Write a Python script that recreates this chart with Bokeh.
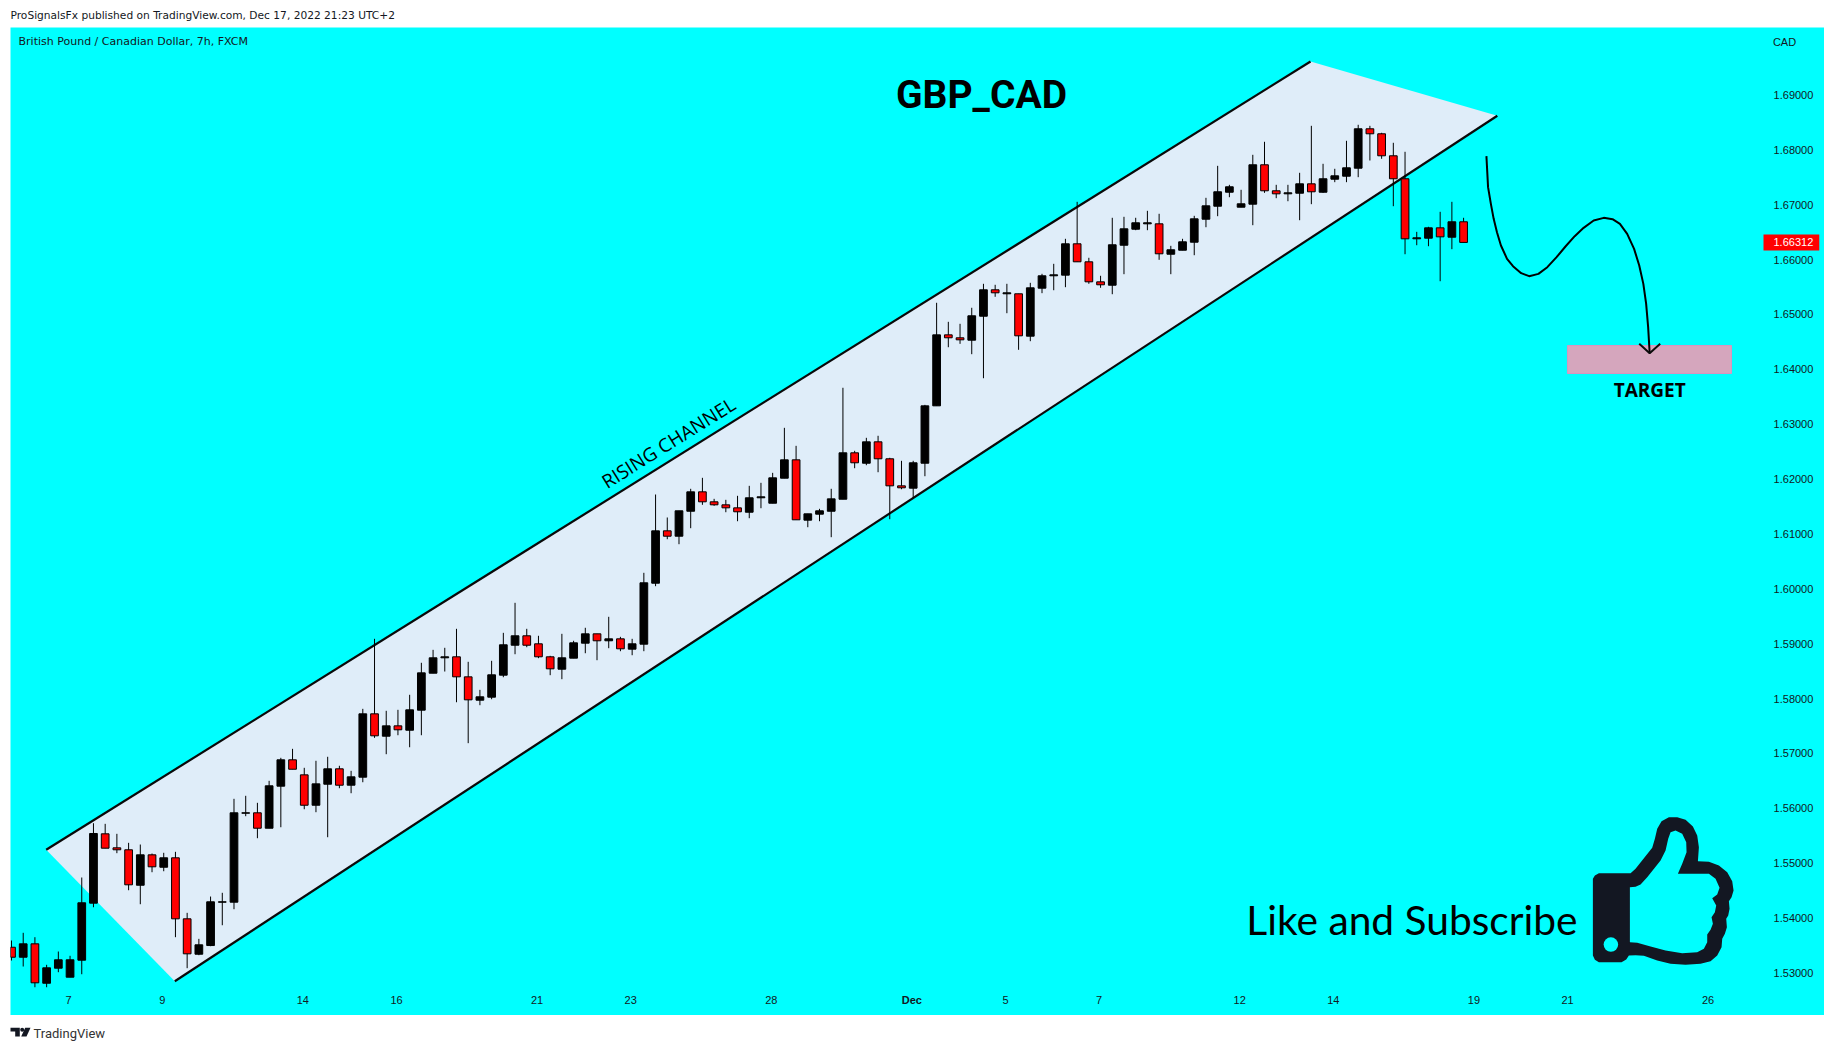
from bokeh.plotting import figure
from bokeh.layouts import column
from bokeh.models import ColumnDataSource, FixedTicker, Label, PrintfTickFormatter, Range1d
from bokeh.core.properties import value
from bokeh.embed import file_html
from bokeh.resources import INLINE
import math

OPEN = [1.53467,1.53285,1.53529,1.52811,1.53085,1.52921,1.53231,1.54270,1.55534,1.55279,
1.55243,1.54597,1.55151,1.54925,1.55097,1.53985,1.53340,1.53498,1.54288,1.54288,
1.55910,1.55917,1.55636,1.56402,1.56883,1.56609,1.56055,1.56438,1.56719,1.56420,
1.56566,1.57721,1.57313,1.57502,1.57422,1.57787,1.58461,1.58742,1.58760,1.58395,
1.57969,1.58024,1.58425,1.58971,1.59143,1.58997,1.58760,1.58534,1.58735,1.59008,
1.59179,1.59052,1.59088,1.58899,1.58990,1.60101,1.61056,1.60958,1.61413,1.61767,
1.61585,1.61530,1.61475,1.61395,1.61658,1.61559,1.62015,1.62350,1.61250,1.61359,
1.61413,1.61632,1.62478,1.62288,1.62678,1.62369,1.61876,1.61833,1.62288,1.63334,
1.64628,1.64574,1.64530,1.64967,1.65449,1.65376,1.65376,1.64603,1.65478,1.65704,
1.65715,1.66287,1.65959,1.65594,1.65532,1.66261,1.66553,1.66651,1.66651,1.66097,
1.66170,1.66316,1.66735,1.66972,1.67227,1.66954,1.67009,1.67727,1.67253,1.67198,
1.67209,1.67380,1.67227,1.67464,1.67519,1.67665,1.68383,1.68292,1.67891,1.67472,
1.66378,1.66389,1.66578,1.66407,1.66688]
HIGH = [1.53590,1.53730,1.53650,1.53147,1.53389,1.53311,1.54738,1.55727,1.55716,1.55534,
1.55370,1.55339,1.55175,1.55188,1.55206,1.54094,1.53620,1.54391,1.54459,1.56172,
1.56227,1.56099,1.56500,1.56919,1.57083,1.56737,1.56865,1.56938,1.56774,1.56682,
1.57812,1.59088,1.57776,1.57794,1.58068,1.58651,1.58887,1.58924,1.59270,1.58669,
1.58158,1.58687,1.59197,1.59744,1.59270,1.59143,1.58778,1.59179,1.59052,1.59289,
1.59179,1.59489,1.59124,1.59088,1.60291,1.61718,1.61299,1.61421,1.61822,1.62022,
1.61639,1.61621,1.61694,1.61876,1.61931,1.62113,1.62933,1.62605,1.61366,1.61457,
1.61822,1.63663,1.62514,1.62751,1.62788,1.62387,1.62332,1.62332,1.63352,1.65212,
1.64865,1.64829,1.65121,1.65558,1.65540,1.65558,1.65376,1.65576,1.65740,1.65922,
1.66378,1.67052,1.66032,1.65704,1.66761,1.66779,1.66761,1.66888,1.66834,1.66250,
1.66378,1.66797,1.67125,1.67708,1.67362,1.67271,1.67909,1.68146,1.67362,1.67362,
1.67581,1.68437,1.67745,1.67654,1.68164,1.68456,1.68437,1.68310,1.68128,1.67964,
1.66505,1.66597,1.66870,1.67052,1.66761]
LOW = [1.53225,1.53116,1.52738,1.52738,1.53012,1.52921,1.52975,1.54196,1.55272,1.55181,
1.54506,1.54251,1.54834,1.54852,1.53650,1.53085,1.53322,1.53486,1.53868,1.54160,
1.55855,1.55454,1.55636,1.55654,1.56711,1.55982,1.55928,1.55472,1.56365,1.56274,
1.56474,1.57283,1.56985,1.57331,1.57112,1.57331,1.58461,1.58492,1.57932,1.57186,
1.57878,1.57987,1.58388,1.58807,1.58935,1.58735,1.58425,1.58352,1.58735,1.58825,
1.58698,1.58917,1.58862,1.58789,1.58862,1.60047,1.60903,1.60812,1.61104,1.61530,
1.61512,1.61395,1.61231,1.61286,1.61468,1.61559,1.62015,1.61257,1.61122,1.61231,
1.60940,1.61632,1.62197,1.62252,1.62124,1.61268,1.61814,1.61658,1.62051,1.63334,
1.64402,1.64464,1.64275,1.63837,1.65321,1.65022,1.64355,1.64512,1.65387,1.65441,
1.65496,1.65959,1.65558,1.65485,1.65368,1.65733,1.66535,1.66535,1.65995,1.65733,
1.66170,1.66079,1.66589,1.66790,1.67136,1.66954,1.66626,1.67216,1.67118,1.67063,
1.66717,1.67009,1.67216,1.67410,1.67410,1.67501,1.67805,1.67836,1.66972,1.66097,
1.66261,1.66243,1.65605,1.66189,1.66312]
CLOSE = [1.53285,1.53529,1.52819,1.53092,1.53238,1.53238,1.54277,1.55540,1.55272,1.55243,
1.54605,1.55151,1.54933,1.55097,1.53985,1.53347,1.53511,1.54295,1.54295,1.55917,
1.55917,1.55636,1.56409,1.56883,1.56711,1.56055,1.56445,1.56719,1.56420,1.56573,
1.57721,1.57320,1.57502,1.57430,1.57794,1.58468,1.58742,1.58760,1.58395,1.57976,
1.58031,1.58432,1.58979,1.59143,1.58971,1.58760,1.58541,1.58742,1.59015,1.59179,
1.59052,1.59088,1.58906,1.58997,1.60109,1.61056,1.60958,1.61421,1.61767,1.61585,
1.61530,1.61475,1.61403,1.61658,1.61676,1.62022,1.62350,1.61257,1.61366,1.61421,
1.61639,1.62478,1.62296,1.62678,1.62369,1.61876,1.61840,1.62296,1.63334,1.64628,
1.64574,1.64537,1.64975,1.65449,1.65394,1.65394,1.64610,1.65485,1.65704,1.65722,
1.66287,1.65959,1.65594,1.65540,1.66269,1.66560,1.66670,1.66670,1.66105,1.66178,
1.66323,1.66742,1.66979,1.67235,1.67326,1.67016,1.67727,1.67253,1.67198,1.67216,
1.67380,1.67235,1.67472,1.67526,1.67672,1.68383,1.68292,1.67891,1.67472,1.66378,
1.66396,1.66578,1.66414,1.66688,1.66312]
BARS = list(range(len(CLOSE)))

PRICE_TICKS = [1.53,1.54,1.55,1.56,1.57,1.58,1.59,1.60,1.61,1.62,1.63,1.64,1.65,1.66,1.67,1.68,1.69]
DATE_TICKS = [4.88,12.88,24.88,32.88,44.88,52.88,64.88,84.88,92.88,104.88,112.88,124.88,132.88,144.88]
DATE_LABELS = ["7","9","14","16","21","23","28","5","7","12","14","19","21","26"]
MONTH_TICK = 76.88
MONTH_LABEL = "Dec"
LAST_PRICE = 1.66312

CHANNEL_X = [2.963,110.93,126.88,13.945]
CHANNEL_Y = [1.55243,1.69609,1.68620,1.52848]
CURVE_X = [125.95,126.09,126.33,126.57,126.85,127.19,127.71,128.22,128.92,129.6,130.39,131.15,131.94,132.7,133.49,134.25,135.11,135.97,136.72,137.35,137.97,138.56,139.0,139.35,139.59,139.76,139.89]
CURVE_Y = [1.67884,1.67319,1.67015,1.66742,1.66499,1.66256,1.66013,1.65879,1.65752,1.65697,1.65739,1.65861,1.66043,1.66238,1.66426,1.66578,1.66712,1.66760,1.66736,1.66651,1.66469,1.66195,1.65891,1.65557,1.65193,1.64768,1.64294]
HEAD_X = [139.0,139.89,140.79]
HEAD_Y = [1.64464,1.64294,1.64464]
TARGET_X = [132.87,146.88]
TARGET_Y = [1.63923,1.64433]

THUMB_OUT = [(22,205),(28,195),(40,188),(135,188),(150,175),(200,112),(208,85),(215,55),(228,32),(250,20),(275,20),(300,28),(322,48),(335,75),(340,110),(337,152),(370,154),(400,165),(425,185),(440,212),(444,240),(438,260),(430,272),(432,295),(428,315),(422,325),(424,350),(418,370),(410,385),(408,410),(395,435),(375,452),(345,460),(300,463),(255,460),(215,450),(175,436),(150,434),(130,435),(122,447),(108,455),(40,455),(28,448),(22,435)]
THUMB_IN = [(133,230),(150,229),(165,222),(185,200),(225,150),(240,120),(248,85),(255,65),(270,60),(290,70),(302,95),(303,125),(290,160),(277,190),(370,190),(390,205),(402,232),(395,252),(380,263),(392,285),(388,305),(378,320),(382,340),(375,358),(365,372),(365,395),(355,415),(335,425),(290,428),(240,420),(195,408),(155,397),(133,395)]
THUMB_DOT = (76,402)

CYAN = "#00ffff"
INK = "#131722"
AXIS_FONT = "Liberation Sans"
PAGE_W = 1834

def icon_x(v):
    return (1585 + v / 3 - 11) / 11.71
def icon_y(v):
    return 1.70721 - (810 + v / 3) * 0.00018225

head = figure(width=PAGE_W, height=27, x_range=Range1d(0, PAGE_W), y_range=Range1d(27, 0),
              x_axis_location=None, y_axis_location=None, toolbar_location=None,
              output_backend="svg", min_border=0, outline_line_color=None)
head.grid.visible = False
head.text(x=[10], y=[14.5], text=["ProSignalsFx published on TradingView.com, Dec 17, 2022 21:23 UTC+2"],
          text_font=value("DejaVu Sans"), text_font_size="10.65px", text_color="#131722", text_baseline="middle")

p = figure(width=1814, height=988,
           x_range=Range1d(-0.085, 154.82), y_range=Range1d(1.52223, 1.70229),
           y_axis_location="right", toolbar_location=None, output_backend="svg",
           min_border=0,
           background_fill_color=CYAN, border_fill_color=CYAN, outline_line_color=None)
p.grid.visible = False
p.yaxis.fixed_location = 149.62
p.xaxis.fixed_location = 1.52715
p.yaxis.ticker = FixedTicker(ticks=PRICE_TICKS)
p.yaxis.formatter = PrintfTickFormatter(format="%.5f")
p.yaxis.major_label_standoff = 10
p.xaxis.ticker = FixedTicker(ticks=DATE_TICKS)
p.xaxis.major_label_overrides = dict(zip(DATE_TICKS, DATE_LABELS))
p.xaxis.major_label_standoff = 7
for ax in (p.xaxis, p.yaxis):
    ax.axis_line_color = None
    ax.major_tick_line_color = None
    ax.minor_tick_line_color = None
    ax.major_tick_out = 0
    ax.major_tick_in = 0
    ax.minor_tick_out = 0
    ax.minor_tick_in = 0
    ax.major_label_text_font = AXIS_FONT
    ax.major_label_text_font_size = "11px"
    ax.major_label_text_color = "#131722"

p.patch(CHANNEL_X, CHANNEL_Y, fill_color="#dfedf9", line_color=None)
p.line([CHANNEL_X[0], CHANNEL_X[1]], [CHANNEL_Y[0], CHANNEL_Y[1]], line_color="#0a0a0a", line_width=2.2)
p.line([CHANNEL_X[3], CHANNEL_X[2]], [CHANNEL_Y[3], CHANNEL_Y[2]], line_color="#0a0a0a", line_width=2.2)

p.quad(left=TARGET_X[0], right=TARGET_X[1], bottom=TARGET_Y[0], top=TARGET_Y[1],
       fill_color="#d5a6bd", line_color="#d894c0", line_width=1)

src = ColumnDataSource(dict(
    x=BARS, high=HIGH, low=LOW,
    top=[max(o, c) for o, c in zip(OPEN, CLOSE)],
    bottom=[min(o, c) for o, c in zip(OPEN, CLOSE)],
    fill=["#000000" if c >= o else "#ff0000" for o, c in zip(OPEN, CLOSE)],
))
p.segment(x0="x", x1="x", y0="low", y1="high", source=src, line_color="#000000", line_width=1)
p.vbar(x="x", width=0.66, top="top", bottom="bottom", source=src, fill_color="fill", line_color="#000000", line_width=1)

p.line(CURVE_X, CURVE_Y, line_color="#000000", line_width=2)
p.line(HEAD_X, HEAD_Y, line_color="#0a0a0a", line_width=2)

p.text(x=[82.83], y=[1.68990], text=["GBP_CAD"], text_font=value("Roboto"), text_font_style="bold",
       text_font_size="39px", text_align="center", text_baseline="middle", text_color="#000000")
p.text(x=[56.1], y=[1.62660], text=["RISING CHANNEL"], angle=[math.radians(31.9)], text_font=value("Open Sans"),
       text_font_size="19px", text_align="center", text_baseline="middle", text_color="#000000")
p.text(x=[139.89], y=[1.63628], text=["TARGET"], text_font=value("Open Sans"), text_font_style="bold",
       text_font_size="19px", text_align="center", text_baseline="middle", text_color="#000000")
p.text(x=[105.45], y=[1.53967], text=["Like and Subscribe"], text_font=value("Lato"),
       text_font_size="40.7px", text_align="left", text_baseline="middle", text_color="#000000")
p.text(x=[0.6], y=[1.69982], text=["British Pound / Canadian Dollar, 7h, FXCM"], text_font=value("DejaVu Sans"),
       text_font_size="11px", text_align="left", text_baseline="middle", text_color="#131722")

p.multi_polygons(xs=[[[[icon_x(a) for a, _ in THUMB_OUT], [icon_x(a) for a, _ in THUMB_IN]]]],
                 ys=[[[[icon_y(b) for _, b in THUMB_OUT], [icon_y(b) for _, b in THUMB_IN]]]],
                 fill_color=INK, line_color=None)
p.scatter([icon_x(THUMB_DOT[0])], [icon_y(THUMB_DOT[1])], marker="circle", size=14.5, fill_color=CYAN, line_color=None)

p.add_layout(Label(x=1753, x_units="screen", y=LAST_PRICE, y_units="data", text=f"{LAST_PRICE:.5f}",
                   text_font=AXIS_FONT, text_font_size="11px", text_color="#ffffff", text_baseline="middle",
                   background_fill_color="#ff0000", padding=(10, 6, 4, 4)))
p.add_layout(Label(x=1774, x_units="screen", y=974, y_units="screen", text="CAD", text_align="center",
                   text_font=AXIS_FONT, text_font_size="11px", text_color="#131722", text_baseline="middle"))
p.add_layout(Label(x=MONTH_TICK, x_units="data", y=15.5, y_units="screen", text=MONTH_LABEL, text_align="center",
                   text_font=AXIS_FONT, text_font_style="bold", text_font_size="11px", text_color="#131722",
                   text_baseline="middle"))

foot = figure(width=PAGE_W, height=27, x_range=Range1d(0, PAGE_W), y_range=Range1d(1042, 1015),
              x_axis_location=None, y_axis_location=None, toolbar_location=None,
              output_backend="svg", min_border=0, outline_line_color=None)
foot.grid.visible = False
foot.patch([10, 19.3, 19.3, 14.7, 14.7, 10], [1027.3, 1027.3, 1036, 1036, 1031, 1031], fill_color=INK, line_color=None)
foot.patch([30, 26, 20.7, 24.7], [1027.3, 1036, 1036, 1027.3], fill_color=INK, line_color=None)
foot.scatter([21.7], [1029.3], marker="circle", size=4, fill_color=INK, line_color=None)
foot.text(x=[33], y=[1032.6], text=["TradingView"], text_font=value("Roboto"), text_font_size="13px",
          text_color="#333333", text_baseline="middle")

page = column(head, column(p, margin=(0, 0, 0, 10)), foot, spacing=0)
open("out.html", "w").write(file_html(page, INLINE))
